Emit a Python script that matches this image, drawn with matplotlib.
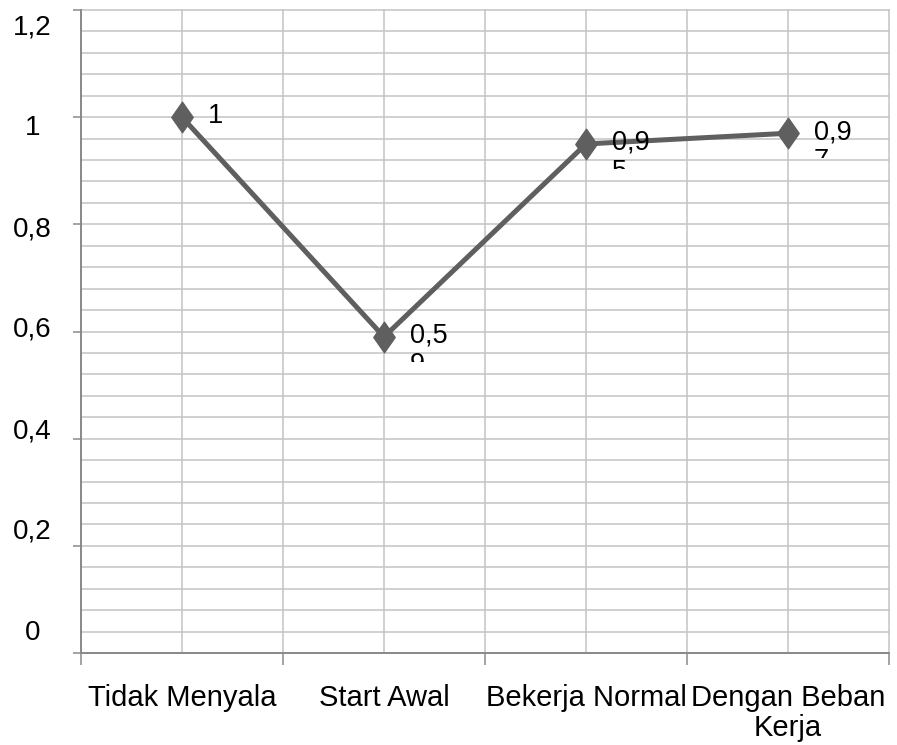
import numpy as np
import matplotlib
matplotlib.use('Agg')
import matplotlib.pyplot as plt
from matplotlib.path import Path
from matplotlib.transforms import Bbox, TransformedBbox
from matplotlib.ticker import MultipleLocator, FixedLocator, NullFormatter

# data
kategori = ['Tidak Menyala', 'Start Awal', 'Bekerja Normal', 'Dengan Beban\nKerja']
nilai = [1, 0.59, 0.95, 0.97]
yticks = [0, 0.2, 0.4, 0.6, 0.8, 1.0, 1.2]
ytick_labels = ['0', '0,2', '0,4', '0,6', '0,8', '1', '1,2']

plt.rcParams['font.family'] = ['Liberation Sans', 'DejaVu Sans']

GRID = '#c4c4c4'
AXIS = '#8a8a8a'
LINE = '#5f5f5f'

fig = plt.figure(figsize=(8.97, 7.45), dpi=100)
ax = fig.add_axes([81 / 897, 92 / 745, 808 / 897, 643 / 745])

x = np.arange(len(kategori))

# belah ketupat yang agak tinggi
berlian = Path([(0, 1), (0.7, 0), (0, -1), (-0.7, 0), (0, 1)],
               [Path.MOVETO, Path.LINETO, Path.LINETO, Path.LINETO, Path.CLOSEPOLY])
ax.plot(x, nilai, color=LINE, lw=3.6, marker=berlian, markersize=22,
        markerfacecolor=LINE, markeredgecolor=LINE, zorder=3)

ax.set_xlim(-0.5, len(kategori) - 0.5)
ax.set_ylim(0, 1.2)

# grid: horizontal tiap 0,04, vertikal tiap setengah kategori
ax.yaxis.set_major_locator(FixedLocator(yticks))
ax.yaxis.set_minor_locator(MultipleLocator(0.04))
ax.xaxis.set_major_locator(FixedLocator(np.arange(-0.5, len(kategori), 1.0)))
ax.xaxis.set_minor_locator(FixedLocator(x))
ax.xaxis.set_major_formatter(NullFormatter())
ax.xaxis.set_minor_formatter(plt.FixedFormatter(kategori))
ax.grid(which='both', color=GRID, lw=1.1, clip_on=False)
ax.set_axisbelow(True)

ax.tick_params(axis='y', which='major', length=6, width=1.1, color=AXIS, labelleft=False)
ax.tick_params(axis='y', which='minor', length=0)
ax.tick_params(axis='x', which='major', length=8.6, width=1.1, color=AXIS)
ax.tick_params(axis='x', which='minor', length=0, pad=22, labelsize=21)
for t in ax.xaxis.get_minorticklabels():
    t.set_linespacing(1.1)

for s in ['top', 'right']:
    ax.spines[s].set_visible(False)
for s in ['left', 'bottom']:
    ax.spines[s].set_color(AXIS)
    ax.spines[s].set_linewidth(1.4)

# label sumbu y (posisinya sedikit bergeser dari garis tick)
lab = fig.add_axes([81 / 897, 115 / 745, 0.01, 606 / 745])
lab.set_ylim(0, 1.2)
lab.set_yticks(yticks)
lab.set_yticklabels(ytick_labels, ha='center', fontsize=20)
lab.tick_params(axis='y', length=0, pad=35)
lab.set_xticks([])
lab.patch.set_visible(False)
for s in lab.spines.values():
    s.set_visible(False)

# label data, dibungkus per 3 karakter dan terpotong di bawah
for xi, v in zip(x, nilai):
    s = ('%g' % v).replace('.', ',')
    teks = '\n'.join(s[i:i + 3] for i in range(0, len(s), 3))
    t = ax.annotate(teks, (xi, v), xytext=(26, 14), textcoords='offset pixels',
                    fontsize=19.5, ha='left', va='top', linespacing=1.15,
                    zorder=4, annotation_clip=False)
    klip = TransformedBbox(Bbox([[xi, v - 0.046], [xi + 0.45, v + 0.2]]),
                           ax.transData)
    t.set_clip_box(klip)
    t.set_clip_on(True)

fig.savefig('out.png', dpi=100)
